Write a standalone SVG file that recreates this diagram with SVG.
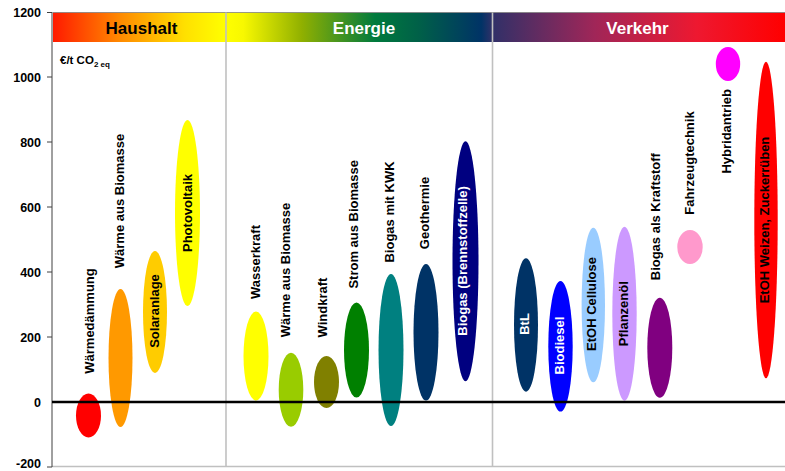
<svg xmlns="http://www.w3.org/2000/svg" width="785" height="471" viewBox="0 0 785 471">
<defs>
<linearGradient id="band" gradientUnits="userSpaceOnUse" x1="53" y1="0" x2="785" y2="0">
<stop offset="0" stop-color="#FF1A00"/>
<stop offset="0.09" stop-color="#FF8800"/>
<stop offset="0.18" stop-color="#FFE000"/>
<stop offset="0.235" stop-color="#FFFF00"/>
<stop offset="0.26" stop-color="#F8F800"/>
<stop offset="0.34" stop-color="#90B000"/>
<stop offset="0.44" stop-color="#007A3D"/>
<stop offset="0.5" stop-color="#006048"/>
<stop offset="0.585" stop-color="#003366"/>
<stop offset="0.6" stop-color="#303068"/>
<stop offset="0.74" stop-color="#A02658"/>
<stop offset="0.88" stop-color="#EE1830"/>
<stop offset="1" stop-color="#FF0000"/>
</linearGradient>
</defs>
<style>
text{font-family:"Liberation Sans",Arial,sans-serif;font-weight:bold}
.tick{font-size:12.5px;text-anchor:end;fill:#000}
.lbl{font-size:13px;text-anchor:middle;fill:#000}
.w{fill:#fff}
.grid{stroke:#C0C0C0;stroke-width:1.6;fill:none}
.band{font-size:17px;text-anchor:middle}
</style>
<rect x="0" y="0" width="785" height="471" fill="#fff"/>

<g id="banner">
<rect x="53" y="12.5" width="732" height="29.5" fill="url(#band)"/>
<line x1="53" y1="12.5" x2="785" y2="12.5" stroke="#808080" stroke-width="0.8"/>
<text class="band" x="141.5" y="34" fill="#000">Haushalt</text>
<text class="band" x="364" y="34" fill="#fff">Energie</text>
<text class="band" x="637.5" y="34" fill="#fff">Verkehr</text>
</g>

<g id="grid">
<line class="grid" x1="226" y1="12.5" x2="226" y2="467"/>
<line class="grid" x1="492.5" y1="12.5" x2="492.5" y2="467"/>
<line class="grid" x1="52" y1="466.5" x2="785" y2="466.5"/>
</g>

<g id="axis">
<line x1="52" y1="12" x2="52" y2="467" stroke="#404040" stroke-width="1"/>
<g stroke="#404040" stroke-width="1">
<line x1="47" y1="12.5" x2="52" y2="12.5"/>
<line x1="47" y1="77" x2="52" y2="77"/>
<line x1="47" y1="142" x2="52" y2="142"/>
<line x1="47" y1="207" x2="52" y2="207"/>
<line x1="47" y1="272" x2="52" y2="272"/>
<line x1="47" y1="337" x2="52" y2="337"/>
<line x1="47" y1="467" x2="52" y2="467"/>
</g>
<text class="tick" x="41" y="17">1200</text>
<text class="tick" x="41" y="81.5">1000</text>
<text class="tick" x="41" y="146.5">800</text>
<text class="tick" x="41" y="211.5">600</text>
<text class="tick" x="41" y="276.5">400</text>
<text class="tick" x="41" y="341.5">200</text>
<text class="tick" x="41" y="406.5">0</text>
<text class="tick" x="41" y="467.5">-200</text>
<text x="60" y="64" font-size="11.5px">€/t CO<tspan font-size="8px" dy="3">2 eq</tspan></text>
</g>

<g id="n-waermedaemmung"><ellipse cx="88.5" cy="415.5" rx="12.5" ry="22" fill="#FF0000"/><text class="lbl" transform="translate(94.4,321) rotate(-90)">Wärmedämmung</text></g>
<g id="n-waerme-biomasse-h"><ellipse cx="120.5" cy="358" rx="12" ry="69" fill="#FF9900"/><text class="lbl" transform="translate(124.4,201) rotate(-90)">Wärme aus Biomasse</text></g>
<g id="n-solaranlage"><ellipse cx="155" cy="312" rx="12" ry="61" fill="#FFCC00"/><text class="lbl" transform="translate(158.7,311) rotate(-90)">Solaranlage</text></g>
<g id="n-photovoltaik"><ellipse cx="187.5" cy="213" rx="12.5" ry="93" fill="#FFFF00"/><text class="lbl" transform="translate(192,213) rotate(-90)">Photovoltaik</text></g>

<g id="n-wasserkraft"><ellipse cx="256" cy="356" rx="12.5" ry="44.5" fill="#FFFF00"/><text class="lbl" transform="translate(260,262) rotate(-90)">Wasserkraft</text></g>
<g id="n-waerme-biomasse-e"><ellipse cx="291" cy="389.7" rx="12.3" ry="37" fill="#99CC00"/><text class="lbl" transform="translate(290,270) rotate(-90)">Wärme aus Biomasse</text></g>
<g id="n-windkraft"><ellipse cx="326.5" cy="382" rx="12.5" ry="26" fill="#808000"/><text class="lbl" transform="translate(326.7,307.5) rotate(-90)">Windkraft</text></g>
<g id="n-strom-biomasse"><ellipse cx="356.5" cy="350" rx="12.5" ry="47.5" fill="#008000"/><text class="lbl" transform="translate(357.7,224.3) rotate(-90)">Strom aus Biomasse</text></g>
<g id="n-biogas-kwk"><ellipse cx="391" cy="350" rx="12.5" ry="76" fill="#008080"/><text class="lbl" transform="translate(394.4,212) rotate(-90)">Biogas mit KWK</text></g>
<g id="n-geothermie"><ellipse cx="426" cy="332.3" rx="12.5" ry="68.3" fill="#003366"/><text class="lbl" transform="translate(428.7,213) rotate(-90)">Geothermie</text></g>
<g id="n-biogas-bz"><ellipse cx="465.5" cy="261.3" rx="13" ry="120" fill="#000080"/><text class="lbl w" transform="translate(466.5,261) rotate(-90)">Biogas (Brennstoffzelle)</text></g>

<g id="n-btl"><ellipse cx="526" cy="325" rx="12" ry="66.7" fill="#003366"/><text class="lbl w" transform="translate(529.4,324) rotate(-90)">BtL</text></g>
<g id="n-biodiesel"><ellipse cx="560.5" cy="346.3" rx="12.2" ry="65.3" fill="#0000FF"/><text class="lbl w" transform="translate(564.4,345.5) rotate(-90)">Biodiesel</text></g>
<g id="n-etoh-cellulose"><ellipse cx="593.3" cy="305" rx="11.7" ry="77.3" fill="#99CCFF"/><text class="lbl" transform="translate(596,304) rotate(-90)">EtOH Cellulose</text></g>
<g id="n-pflanzenoel"><ellipse cx="624.5" cy="313.7" rx="12.2" ry="87" fill="#CC99FF"/><text class="lbl" transform="translate(627.7,313.7) rotate(-90)">Pflanzenöl</text></g>
<g id="n-biogas-kraftstoff"><ellipse cx="659.8" cy="347.7" rx="12.5" ry="50" fill="#800080"/><text class="lbl" transform="translate(660.4,216.7) rotate(-90)">Biogas als Kraftstoff</text></g>
<g id="n-fahrzeugtechnik"><ellipse cx="690" cy="247" rx="12.7" ry="17" fill="#FF99CC"/><text class="lbl" transform="translate(693.7,163) rotate(-90)">Fahrzeugtechnik</text></g>
<g id="n-hybridantrieb"><ellipse cx="728" cy="64" rx="12.2" ry="17" fill="#FF00FF"/><text class="lbl" transform="translate(731,131.3) rotate(-90)">Hybridantrieb</text></g>
<g id="n-etoh-weizen"><ellipse cx="766" cy="220" rx="11.7" ry="158.3" fill="#FF0000"/><text class="lbl" transform="translate(769.4,220) rotate(-90)">EtOH Weizen, Zuckerrüben</text></g>

<g id="connectors">
<line x1="52" y1="402" x2="785" y2="402" stroke="#000" stroke-width="2.6"/>
</g>
</svg>
